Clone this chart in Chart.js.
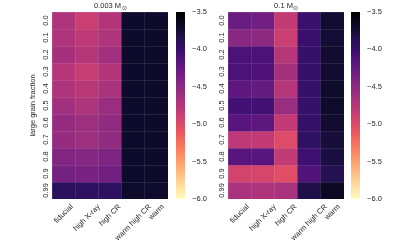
<!DOCTYPE html>
<html><head><meta charset="utf-8">
<script src="https://cdn.jsdelivr.net/npm/chart.js@4"></script>
<style>
html,body{margin:0;padding:0;background:#fff;}
#wrap{position:relative;width:415px;height:249px;overflow:hidden;background:#fff;}
canvas{position:absolute;top:0;}
</style></head><body>
<div id="wrap">
<canvas id="hm1" width="172" height="249" style="left:0px"></canvas>
<canvas id="cb1" width="50" height="249" style="left:170px"></canvas>
<canvas id="hm2" width="158" height="249" style="left:190px"></canvas>
<canvas id="cb2" width="70" height="249" style="left:345px"></canvas>
</div>
<script>
// ---- data ----
const models = ['fiducial', 'high X-ray', 'high CR', 'warm high CR', 'warm'];
const fractions = ['0.0', '0.1', '0.2', '0.3', '0.4', '0.5', '0.6', '0.7', '0.8', '0.9', '0.99'];
const colorbarTicks = [-6.0, -5.5, -5.0, -4.5, -4.0, -3.5];
const vmin = -6.0, vmax = -3.5;
const titleLow = '0.003 M', titleHigh = '0.1 M', sunSymbol = '\u2299';
const yTitle = 'large grain fraction';

// 0.003 Msun (values per model, rows = large grain fraction)
const lowFiducial   = [-4.70, -4.70, -4.65, -4.75, -4.70, -4.625, -4.55, -4.55, -4.425, -4.35, -3.90];
const lowHighXray   = [-4.875, -4.80, -4.75, -4.85, -4.775, -4.70, -4.60, -4.60, -4.45, -4.375, -3.925];
const lowHighCR     = [-4.725, -4.70, -4.625, -4.725, -4.675, -4.575, -4.525, -4.525, -4.40, -4.325, -3.925];
const lowWarmHighCR = [-3.70, -3.70, -3.70, -3.70, -3.70, -3.70, -3.70, -3.70, -3.70, -3.70, -3.71];
const lowWarm       = [-3.70, -3.70, -3.70, -3.70, -3.70, -3.70, -3.70, -3.70, -3.70, -3.70, -3.71];

// 0.1 Msun
const highFiducial   = [-4.275, -4.475, -4.10, -4.10, -4.20, -4.05, -4.175, -4.80, -4.175, -4.925, -4.675];
const highHighXray   = [-4.325, -4.50, -4.10, -4.11, -4.25, -4.05, -4.20, -4.825, -4.175, -4.95, -4.70];
const highHighCR     = [-4.825, -4.875, -4.75, -4.65, -4.75, -4.575, -4.825, -5.00, -4.825, -5.025, -4.675];
const highWarmHighCR = [-4.00, -4.00, -3.975, -3.975, -3.975, -3.975, -3.96, -3.925, -4.025, -4.125, -3.825];
const highWarm       = [-3.725, -3.75, -3.725, -3.725, -3.71, -3.71, -3.725, -3.775, -3.80, -3.875, -3.675];

// ---- style ----
const FONT = "'Liberation Sans', Arial, sans-serif";
const FS = 7.5;
const TXT = '#262626';
const MAGMA = ['#000004','#07061c','#150e38','#29115a','#3f0f72','#56147d','#6b1d81','#802582','#952c80','#ab337c',
               '#c03a76','#d6456c','#e85362','#f4685c','#fa815f','#fd9a6a','#feb37b','#fecc8f','#fde4a6','#fcfdbf'];
function hex(h){return [parseInt(h.slice(1,3),16),parseInt(h.slice(3,5),16),parseInt(h.slice(5,7),16)];}
function magma(t){
  t = Math.max(0, Math.min(1, t));
  const n = MAGMA.length - 1, x = t * n, i = Math.min(n - 1, Math.floor(x)), f = x - i;
  const a = hex(MAGMA[i]), b = hex(MAGMA[i + 1]);
  return 'rgb(' + a.map((v, k) => Math.round(v + (b[k] - v) * f)).join(',') + ')';
}
function cmap(v){ return magma((vmax - v) / (vmax - vmin)); } // magma_r

// title (with subscript sun symbol) and matplotlib-style rotated x labels (rotation 45, ha=center)
const decorPlugin = {
  id: 'decor',
  afterDraw(chart, args, opts) {
    const ctx = chart.ctx, a = chart.chartArea;
    ctx.save();
    ctx.fillStyle = TXT;
    ctx.textBaseline = 'alphabetic';
    ctx.font = FS + 'px ' + FONT;
    const w1 = ctx.measureText(opts.text).width;
    ctx.font = '5.5px ' + FONT;
    const w2 = ctx.measureText(sunSymbol).width;
    const x0 = (a.left + a.right) / 2 - (w1 + w2) / 2;
    const y0 = a.top - 4;
    ctx.font = FS + 'px ' + FONT;
    ctx.textAlign = 'left';
    ctx.fillText(opts.text, x0, y0);
    ctx.font = '5.5px ' + FONT;
    ctx.fillText(sunSymbol, x0 + w1 + 0.5, y0 + 2);

    const xs = chart.scales.x;
    ctx.font = FS + 'px ' + FONT;
    ctx.textAlign = 'center';
    ctx.textBaseline = 'middle';
    const h = FS;
    xs.ticks.forEach((t, i) => {
      const label = xs.getLabelForValue(t.value);
      const w = ctx.measureText(label).width;
      const W = (w + h) * Math.SQRT1_2;
      const cx = xs.getPixelForTick(i);
      const cy = a.bottom + 4 + W / 2;
      ctx.save();
      ctx.translate(cx, cy);
      ctx.rotate(-Math.PI / 4);
      ctx.fillText(label, 0, 0);
      ctx.restore();
    });
    ctx.restore();
  }
};

function heatmap(id, columns, title, showYTitle, yWidth, padRight) {
  const datasets = fractions.map((f, r) => ({
    label: f,
    data: columns.map(() => [r - 0.5, r + 0.5]),
    backgroundColor: columns.map(col => cmap(col[r])),
    borderWidth: 0,
    grouped: false,
    barPercentage: 1,
    categoryPercentage: 1,
    yAxisID: 'y'
  }));
  new Chart(document.getElementById(id), {
    type: 'bar',
    data: { labels: models, datasets },
    plugins: [decorPlugin],
    options: {
      responsive: false, animation: false,
      layout: { padding: { left: 0, right: padRight, top: 12, bottom: 0 } },
      plugins: { legend: { display: false }, tooltip: { enabled: false }, decor: { text: title } },
      scales: {
        x: {
          type: 'category', offset: true,
          grid: { offset: true, z: 1, color: 'rgba(255,255,255,0.10)', drawTicks: false },
          border: { display: false },
          ticks: { display: false, autoSkip: false },
          afterFit(s) { s.height = 50; }
        },
        y: { type: 'linear', min: -0.5, max: 10.5, reverse: true, display: false },
        yc: {
          type: 'category', labels: fractions, position: 'left', offset: true, bounds: 'ticks',
          grid: { offset: true, z: 1, color: 'rgba(255,255,255,0.10)', drawTicks: false },
          border: { display: false },
          ticks: { autoSkip: false, minRotation: 90, maxRotation: 90, crossAlign: 'center', padding: -1,
                   color: TXT, font: { family: FONT, size: FS } },
          title: { display: showYTitle, text: yTitle, color: TXT, font: { family: FONT, size: FS },
                   padding: { top: 28, bottom: 0 } },
          afterFit(s) { s.width = yWidth; }
        }
      }
    }
  });
}

function colorbar(id, padLeft, axisWidth) {
  new Chart(document.getElementById(id), {
    type: 'bar',
    data: { labels: [''], datasets: [{
      data: [[vmin, vmax]],
      borderWidth: 0, barPercentage: 1, categoryPercentage: 1,
      backgroundColor(c) {
        const a = c.chart.chartArea;
        if (!a) return '#000';
        const g = c.chart.ctx.createLinearGradient(0, a.bottom, 0, a.top);
        for (let i = 0; i <= 40; i++) { const t = i / 40; g.addColorStop(t, magma(1 - t)); }
        return g;
      }
    }]},
    options: {
      responsive: false, animation: false,
      layout: { padding: { left: padLeft, right: 0, top: 12, bottom: 50 } },
      plugins: { legend: { display: false }, tooltip: { enabled: false } },
      scales: {
        x: { display: false },
        y: {
          position: 'right', min: vmin, max: vmax,
          afterBuildTicks(s) { s.ticks = colorbarTicks.map(v => ({ value: v })); },
          grid: { display: false, drawTicks: false },
          border: { display: false },
          ticks: { padding: 7, color: TXT, font: { family: FONT, size: FS },
                   callback: v => (v < 0 ? '\u2212' : '') + Math.abs(v).toFixed(1) },
          afterFit(s) { s.width = axisWidth; }
        }
      }
    }
  });
}

heatmap('hm1', [lowFiducial, lowHighXray, lowHighCR, lowWarmHighCR, lowWarm], titleLow, true, 52, 4);
heatmap('hm2', [highFiducial, highHighXray, highHighCR, highWarmHighCR, highWarm], titleHigh, false, 38, 4);
colorbar('cb1', 6, 35);
colorbar('cb2', 6, 55);
</script>
</body></html>
